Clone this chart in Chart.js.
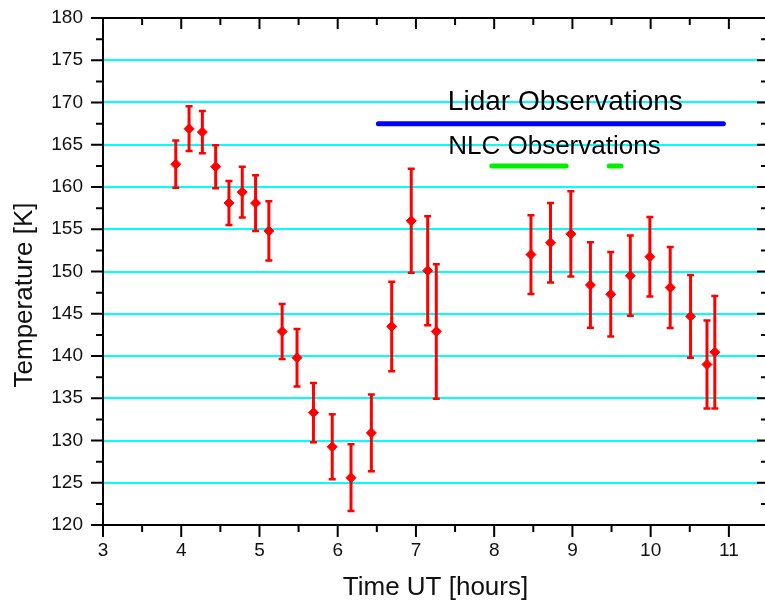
<!DOCTYPE html>
<html>
<head>
<meta charset="utf-8">
<script src="https://cdn.jsdelivr.net/npm/chart.js@4/dist/chart.umd.min.js"></script>
<style>
html, body { margin: 0; padding: 0; overflow: hidden; background: #fff; }
#wrap { width: 768px; height: 604px; }
</style>
</head>
<body>
<div id="wrap"><canvas id="tempChart"></canvas></div>
<script>
// lidar temperature profile points (time UT, temperature, error)
const hours = [3.93, 4.10, 4.27, 4.44, 4.61, 4.78, 4.95, 5.12, 5.29, 5.48, 5.69, 5.93, 6.17, 6.43, 6.69,
               6.94, 7.15, 7.26, 8.47, 8.72, 8.98, 9.23, 9.49, 9.74, 9.99, 10.25, 10.51, 10.72, 10.82];
const temps = [162.7, 166.9, 166.5, 162.4, 158.1, 159.4, 158.1, 154.8, 142.9, 139.8, 133.3, 129.25, 125.6, 130.9, 143.5,
               156.0, 150.1, 142.9, 152.0, 153.4, 154.45, 148.4, 147.3, 149.5, 151.75, 148.1, 144.7, 139.0, 140.45];
const errors = [2.8, 2.65, 2.5, 2.55, 2.6, 3.0, 3.3, 3.5, 3.25, 3.4, 3.5, 3.85, 3.95, 4.55, 5.3,
                6.15, 6.45, 7.95, 4.65, 4.7, 5.05, 5.05, 5.0, 4.75, 4.7, 4.8, 4.9, 5.2, 6.65];

// observation periods
const lidarSpan = [6.52, 10.93];
const lidarLevel = 167.5;
const nlcSpans = [[7.97, 8.92], [9.47, 9.62]];
const nlcLevel = 162.5;

const xTicks = [3, 4, 5, 6, 7, 8, 9, 10, 11];
const yTicks = [120, 125, 130, 135, 140, 145, 150, 155, 160, 165, 170, 175, 180];

const lidarText = 'Lidar Observations';
const nlcText = 'NLC Observations';

Chart.defaults.font.family = "'Liberation Sans', Arial, sans-serif";
Chart.defaults.color = '#111';

const errorBars = {
  id: 'errorBars',
  beforeDatasetsDraw(chart) {
    const { ctx, scales: { x, y } } = chart;
    ctx.save();
    ctx.strokeStyle = '#ff0000';
    hours.forEach((h, i) => {
      const px = x.getPixelForValue(h);
      const top = y.getPixelForValue(temps[i] + errors[i]);
      const bot = y.getPixelForValue(temps[i] - errors[i]);
      ctx.lineWidth = 3;
      ctx.beginPath();
      ctx.moveTo(px, top);
      ctx.lineTo(px, bot);
      ctx.stroke();
      ctx.lineWidth = 2.5;
      ctx.beginPath();
      ctx.moveTo(px - 3.5, top);
      ctx.lineTo(px + 3.5, top);
      ctx.moveTo(px - 3.5, bot);
      ctx.lineTo(px + 3.5, bot);
      ctx.stroke();
    });
    ctx.restore();
  }
};

const frame = {
  id: 'frame',
  afterDatasetsDraw(chart) {
    const { ctx, chartArea: a, scales: { x, y } } = chart;
    ctx.save();

    // annotations
    ctx.fillStyle = '#000';
    ctx.textAlign = 'center';
    ctx.textBaseline = 'alphabetic';
    ctx.font = "28px 'Liberation Sans', Arial, sans-serif";
    ctx.fillText(lidarText, x.getPixelForValue(8.91), y.getPixelForValue(169.07));
    ctx.font = "26px 'Liberation Sans', Arial, sans-serif";
    ctx.fillText(nlcText, x.getPixelForValue(8.77), y.getPixelForValue(163.94));

    // y axis title
    ctx.save();
    ctx.translate(32, 295);
    ctx.rotate(-Math.PI / 2);
    ctx.fillStyle = '#111';
    ctx.fillText('Temperature [K]', 0, 0);
    ctx.restore();

    // box and ticks
    ctx.strokeStyle = '#000';
    ctx.lineWidth = 2;
    ctx.strokeRect(a.left, a.top, a.right - a.left, a.bottom - a.top);
    ctx.beginPath();
    xTicks.forEach(v => {
      const px = x.getPixelForValue(v);
      ctx.moveTo(px, a.bottom); ctx.lineTo(px, a.bottom + 12);
      ctx.moveTo(px, a.top); ctx.lineTo(px, a.top + 11);
      if (v + 0.5 < x.max) {
        const mx = x.getPixelForValue(v + 0.5);
        ctx.moveTo(mx, a.bottom); ctx.lineTo(mx, a.bottom + 7);
        ctx.moveTo(mx, a.top); ctx.lineTo(mx, a.top + 7);
      }
    });
    yTicks.forEach(v => {
      const py = y.getPixelForValue(v);
      ctx.moveTo(a.left, py); ctx.lineTo(a.left - 12, py);
      ctx.moveTo(a.right, py); ctx.lineTo(a.right - 11, py);
      if (v + 2.5 < y.max) {
        const my = y.getPixelForValue(v + 2.5);
        ctx.moveTo(a.left, my); ctx.lineTo(a.left - 7, my);
        ctx.moveTo(a.right, my); ctx.lineTo(a.right - 7, my);
      }
    });
    ctx.stroke();
    ctx.restore();
  }
};

const ctx = document.getElementById('tempChart').getContext('2d');
const tempChart = new Chart(ctx, {
  type: 'scatter',
  data: {
    datasets: [
      {
        label: 'Temperature',
        data: hours.map((h, i) => ({ x: h, y: temps[i] })),
        pointStyle: 'rectRot',
        pointRadius: 5,
        backgroundColor: '#ff0000',
        borderColor: '#ff0000',
        borderWidth: 1,
        showLine: false
      },
      {
        label: lidarText,
        data: lidarSpan.map(h => ({ x: h, y: lidarLevel })),
        showLine: true,
        borderColor: '#0000ff',
        borderWidth: 5,
        borderCapStyle: 'round',
        pointRadius: 0
      },
      ...nlcSpans.map(span => ({
        label: nlcText,
        data: span.map(h => ({ x: h, y: nlcLevel })),
        showLine: true,
        borderColor: '#00ee00',
        borderWidth: 5,
        borderCapStyle: 'round',
        pointRadius: 0
      }))
    ]
  },
  options: {
    responsive: true,
    maintainAspectRatio: false,
    animation: false,
    layout: { autoPadding: false, padding: { top: 18, right: 0, left: 0, bottom: 0 } },
    plugins: {
      legend: { display: false },
      tooltip: { enabled: false }
    },
    scales: {
      x: {
        type: 'linear',
        min: 3,
        max: 11.5,
        afterBuildTicks: scale => { scale.ticks = xTicks.map(v => ({ value: v })); },
        afterFit: scale => { scale.height = 79; scale.paddingLeft = 0; scale.paddingRight = 0; },
        grid: { display: false, drawTicks: false },
        border: { display: false },
        ticks: { font: { size: 19 }, padding: 14, maxRotation: 0 },
        title: {
          display: true,
          text: 'Time UT [hours]',
          font: { size: 26 },
          color: '#111',
          padding: { top: 0, bottom: 1 }
        }
      },
      y: {
        min: 120,
        max: 180,
        afterBuildTicks: scale => { scale.ticks = yTicks.map(v => ({ value: v })); },
        afterFit: scale => { scale.width = 103; scale.paddingTop = 0; scale.paddingBottom = 0; },
        grid: {
          drawTicks: false,
          lineWidth: 2,
          color: c => (c.tick && (c.tick.value === 120 || c.tick.value === 180)) ? 'rgba(0,0,0,0)' : '#00ffff'
        },
        border: { display: false },
        ticks: { font: { size: 19 }, padding: 20 }
      }
    }
  },
  plugins: [errorBars, frame]
});
</script>
</body>
</html>
